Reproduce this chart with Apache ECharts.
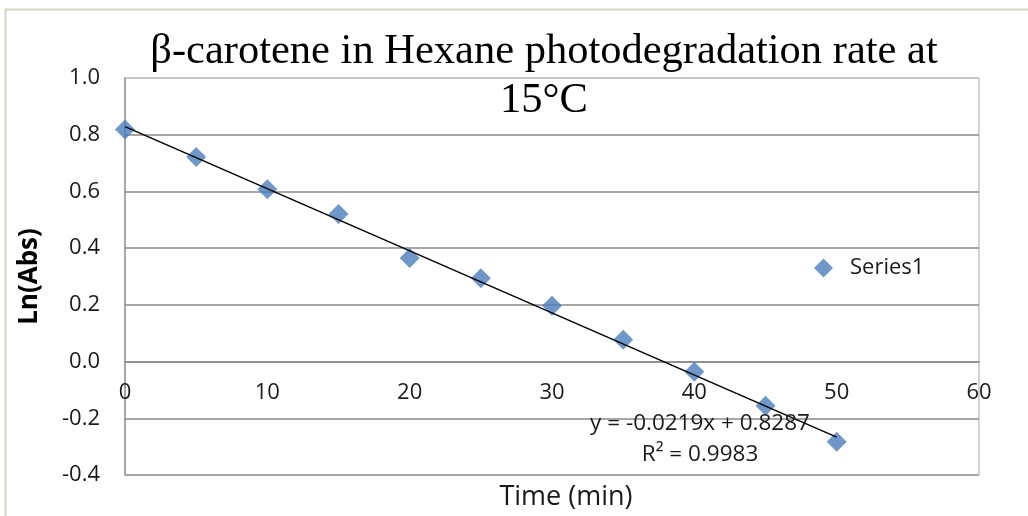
<!DOCTYPE html>
<html>
<head>
<meta charset="utf-8">
<title>β-carotene photodegradation</title>
<script src="https://cdn.jsdelivr.net/npm/echarts@6/dist/echarts.min.js"></script>
<style>
  html, body { margin: 0; padding: 0; background: #ffffff; }
  #chart { width: 1028px; height: 516px; }
</style>
</head>
<body>
<div id="chart"></div>
<script>
// Time points (min) and measured ln(absorbance)
const timeMin = [0, 5, 10, 15, 20, 25, 30, 35, 40, 45, 50];
const lnAbs = [0.818, 0.721, 0.608, 0.520, 0.365, 0.294, 0.197, 0.077, -0.036, -0.156, -0.283];

// Linear fit reported for the series
const fitSlope = -0.0219;
const fitIntercept = 0.8287;
const fitR2 = 0.9983;

const xTicks = [0, 10, 20, 30, 40, 50, 60];
const yTicks = [-0.4, -0.2, 0.0, 0.2, 0.4, 0.6, 0.8, 1.0];

const sans = '"Open Sans", "Liberation Sans", sans-serif';
const serif = '"Liberation Serif", "DejaVu Serif", serif';

const points = timeMin.map((t, i) => [t, lnAbs[i]]);
const fitStart = timeMin[0];
const fitEnd = timeMin[timeMin.length - 1];
const fitLine = [
  [fitStart, fitIntercept + fitSlope * fitStart],
  [fitEnd, fitIntercept + fitSlope * fitEnd]
];

const eqText = 'y = ' + fitSlope.toFixed(4) + 'x + ' + fitIntercept.toFixed(4) + '\nR² = ' + fitR2.toFixed(4);

// plot box; the time axis sits on the y = 0 line, lifted from the bottom edge
const gridBox = { left: 125, right: 49, top: 78, bottom: 41 };
const plotHeight = 516 - gridBox.top - gridBox.bottom;
const yMin = yTicks[0];
const yMax = yTicks[yTicks.length - 1];
const xAxisLift = -plotHeight * (0 - yMin) / (yMax - yMin);

const chart = echarts.init(document.getElementById('chart'), null, { renderer: 'canvas' });

chart.setOption({
  animation: false,
  backgroundColor: '#ffffff',
  title: {
    text: 'β-carotene in Hexane photodegradation rate at\n15°C',
    left: 539,
    top: 22,
    textAlign: 'center',
    textStyle: {
      fontFamily: serif,
      fontSize: 42.5,
      fontWeight: 'normal',
      color: '#000000',
      lineHeight: 49
    }
  },
  legend: {
    data: ['Series1'],
    left: 809,
    top: 252,
    icon: 'diamond',
    itemWidth: 19,
    itemHeight: 19,
    itemGap: 10,
    textStyle: { fontFamily: sans, fontSize: 22, color: '#1a1a1a', padding: [0, 0, 0, 12] }
  },
  grid: Object.assign({ containLabel: false, outerBoundsMode: 'none' }, gridBox),
  xAxis: {
    type: 'value',
    min: xTicks[0],
    max: xTicks[xTicks.length - 1],
    interval: 10,
    position: 'bottom',
    offset: xAxisLift,
    name: 'Time (min)',
    nameLocation: 'middle',
    nameGap: 122,
    nameTextStyle: { fontFamily: sans, fontSize: 27, color: '#1a1a1a', padding: [0, 0, 0, 28] },
    axisLine: { onZero: false, lineStyle: { color: '#8a8a8a', width: 1.5 } },
    axisTick: { show: false },
    axisLabel: { fontFamily: sans, fontSize: 22, color: '#1a1a1a', margin: 20 },
    splitLine: { show: false }
  },
  yAxis: {
    type: 'value',
    min: yMin,
    max: yMax,
    interval: 0.2,
    name: 'Ln(Abs)',
    nameLocation: 'middle',
    nameGap: 82,
    nameTextStyle: { fontFamily: sans, fontSize: 26, fontWeight: 'bold', color: '#000000' },
    axisLine: { show: true, onZero: false, lineStyle: { color: '#8a8a8a', width: 1.5 } },
    axisTick: { show: false },
    axisLabel: {
      fontFamily: sans, fontSize: 22, color: '#1a1a1a', margin: 25,
      formatter: v => v.toFixed(1)
    },
    splitLine: {
      show: true,
      lineStyle: {
        color: ['#8a8a8a', '#8a8a8a', '#8a8a8a', '#8a8a8a', '#8a8a8a', '#8a8a8a', '#8a8a8a', '#b4b4b4'],
        width: 1.5
      }
    }
  },
  graphic: [
    {
      // outer chart frame
      type: 'rect',
      silent: true,
      shape: { x: 5.5, y: 9.5, width: 1100, height: 600 },
      style: { fill: 'none', stroke: '#d8d4c4', lineWidth: 2 }
    },
    {
      // right edge of the plot area
      type: 'line',
      silent: true,
      shape: { x1: 979, y1: 78, x2: 979, y2: 475 },
      style: { stroke: '#c4c4c4', lineWidth: 1.5 }
    },
    {
      type: 'text',
      silent: true,
      z: 10,
      x: 700,
      y: 408,
      style: {
        text: eqText,
        textAlign: 'center',
        textVerticalAlign: 'top',
        fontFamily: sans,
        fontSize: 22.5,
        lineHeight: 31,
        fill: '#1a1a1a'
      }
    }
  ],
  series: [
    {
      name: 'Series1',
      type: 'scatter',
      symbol: 'diamond',
      symbolSize: 20,
      itemStyle: { color: '#4a7ebb' },
      data: points,
      z: 3
    },
    {
      name: 'Linear (Series1)',
      type: 'line',
      data: fitLine,
      showSymbol: false,
      symbol: 'none',
      lineStyle: { color: '#000000', width: 1.5 },
      z: 4
    }
  ]
});
</script>
</body>
</html>
